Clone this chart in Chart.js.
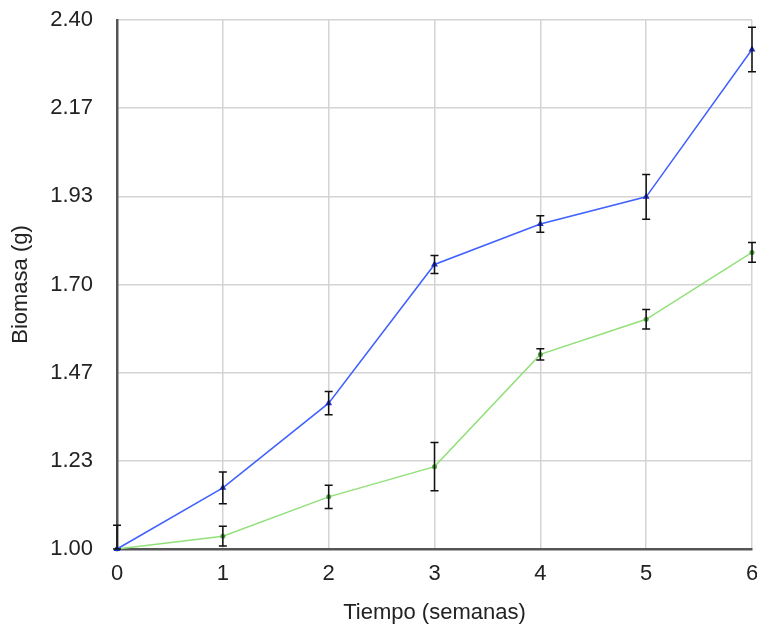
<!DOCTYPE html>
<html>
<head>
<meta charset="utf-8">
<script src="https://cdn.jsdelivr.net/npm/chart.js@4/dist/chart.umd.min.js"></script>
<style>
  body { margin: 0; background: #fff; }
  #wrap { width: 757px; height: 627px; }
</style>
</head>
<body>
<div id="wrap"><canvas id="line_chart"></canvas></div>
<script>
// semanas
var weeks = ['0', '1', '2', '3', '4', '5', '6'];
var blueValues = [1.00, 1.162, 1.386, 1.753, 1.860, 1.932, 2.322];
var blueErrors = [0.063, 0.042, 0.031, 0.024, 0.022, 0.059, 0.059];
var greenValues = [1.00, 1.034, 1.138, 1.218, 1.515, 1.608, 1.785];
var greenErrors = [0, 0.026, 0.031, 0.064, 0.015, 0.026, 0.026];
var yTicks = [1.00, 1.2333, 1.4667, 1.70, 1.9333, 2.1667, 2.40];

var font = { family: '"Liberation Sans", Arial, sans-serif', size: 22 };

// draws the error bars with the chart's own scales
var errorBars = {
    id: 'errorBars',
    afterDatasetsDraw: function(chart) {
        var ctx = chart.ctx;
        var y = chart.scales.y;
        ctx.save();
        ctx.strokeStyle = '#111';
        ctx.lineWidth = 1.5;
        chart.data.datasets.forEach(function(ds, i) {
            var meta = chart.getDatasetMeta(i);
            meta.data.forEach(function(pt, j) {
                var e = ds.errors[j];
                if (!e) return;
                var top = y.getPixelForValue(ds.data[j] + e);
                var bot = y.getPixelForValue(Math.max(ds.data[j] - e, y.min));
                var px = pt.x;
                ctx.beginPath();
                ctx.moveTo(px, top); ctx.lineTo(px, bot);
                ctx.moveTo(px - 4, top); ctx.lineTo(px + 4, top);
                ctx.moveTo(px - 4, bot); ctx.lineTo(px + 4, bot);
                ctx.stroke();
            });
        });
        ctx.restore();
    }
};

var lineData = {
    labels: weeks,
    datasets: [
        {
            label: 'A',
            data: blueValues,
            errors: blueErrors,
            borderColor: '#4060ff',
            backgroundColor: '#2030d0',
            borderWidth: 1.5,
            pointStyle: 'triangle',
            pointRadius: 4,
            pointBorderWidth: 0,
            clip: false
        },
        {
            label: 'B',
            data: greenValues,
            errors: greenErrors,
            borderColor: '#92e07a',
            backgroundColor: '#50a040',
            borderWidth: 1.5,
            pointStyle: 'circle',
            pointRadius: 2.5,
            pointBorderWidth: 0,
            clip: false
        }
    ]
};

var lineOptions = {
    responsive: true,
    maintainAspectRatio: false,
    animation: false,
    layout: { padding: { left: 0, top: 20, right: 5, bottom: 0 } },
    plugins: { legend: { display: false }, tooltip: { enabled: false } },
    scales: {
        x: {
            grid: { color: '#d4d4d4', lineWidth: 1.5, drawTicks: false },
            border: { color: '#555', width: 2.5 },
            ticks: { font: font, color: '#222', padding: 12, maxRotation: 0 },
            title: { display: true, text: 'Tiempo (semanas)', font: font, color: '#222', padding: { top: 4, bottom: 1 } },
            afterFit: function(s) { s.height = 78; s.paddingLeft = 0; s.paddingRight = 0; }
        },
        y: {
            min: 1.0,
            max: 2.4,
            grid: { color: '#d4d4d4', lineWidth: 1.5, drawTicks: false },
            border: { color: '#555', width: 2.5 },
            ticks: {
                font: font, color: '#222', padding: 24,
                callback: function(v) { return Number(v).toFixed(2); }
            },
            afterBuildTicks: function(s) {
                s.ticks = yTicks.map(function(v) { return { value: v }; });
            },
            title: { display: true, text: 'Biomasa (g)', font: font, color: '#222', padding: { top: 8, bottom: 4 } },
            afterFit: function(s) { s.width = 117; s.paddingTop = 0; s.paddingBottom = 0; }
        }
    }
};

var ctx = document.getElementById('line_chart').getContext('2d');
new Chart(ctx, { type: 'line', data: lineData, options: lineOptions, plugins: [errorBars] });
</script>
</body>
</html>
